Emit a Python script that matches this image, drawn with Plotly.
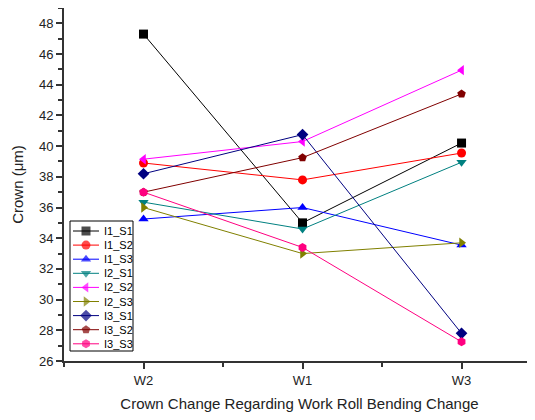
import plotly.graph_objects as go

categories = ["W2", "W1", "W3"]
series_names = ["I1_S1", "I1_S2", "I1_S3", "I2_S1", "I2_S2", "I2_S3", "I3_S1", "I3_S2", "I3_S3"]
I1_S1 = [47.3, 35.0, 40.2]
I1_S2 = [38.9, 37.8, 39.55]
I1_S3 = [35.25, 36.0, 33.55]
I2_S1 = [36.35, 34.6, 38.95]
I2_S2 = [39.15, 40.3, 44.95]
I2_S3 = [36.0, 33.0, 33.7]
I3_S1 = [38.2, 40.75, 27.8]
I3_S2 = [37.0, 39.25, 43.4]
I3_S3 = [37.0, 33.4, 27.25]
values = [I1_S1, I1_S2, I1_S3, I2_S1, I2_S2, I2_S3, I3_S1, I3_S2, I3_S3]
colors = ["#000000", "#FF0000", "#0000FF", "#008080", "#FF00FF", "#808000", "#000080", "#800000", "#FF0080"]
symbols = ["square", "circle", "triangle-up", "triangle-down", "triangle-left", "triangle-right", "diamond", "pentagon", "hexagon"]
y_ticks = [26, 28, 30, 32, 34, 36, 38, 40, 42, 44, 46, 48]

fig = go.Figure()
for name, vals, c, s in zip(series_names, values, colors, symbols):
    fig.add_trace(go.Scatter(
        x=[0, 1, 2], y=vals, name=name, mode="lines+markers",
        line=dict(color=c, width=1),
        marker=dict(color=c, symbol=s, size=9, line=dict(width=0)),
        showlegend=False,
    ))

# custom compact legend drawn on an overlay axis measured in pixels of the plot area
leg_x0, leg_x1 = 70, 133
leg_y0, leg_y1 = 221, 351
row0, row_step = 231, 14.1
for i, (name, c, s) in enumerate(zip(series_names, colors, symbols)):
    yy = row0 + i * row_step
    fig.add_trace(go.Scatter(
        x=[73, 86, 99], y=[yy, yy, yy], mode="lines+markers",
        line=dict(color=c, width=1),
        marker=dict(color=c, symbol=s, size=[0, 9, 0], line=dict(width=0)),
        xaxis="x2", yaxis="y2", showlegend=False, hoverinfo="skip",
    ))
    fig.add_annotation(
        x=102, y=yy, xref="x2", yref="y2", text=name, showarrow=False,
        xanchor="left", yanchor="middle",
        font=dict(size=11, color="#000000", family="Liberation Sans, Arial, sans-serif"),
    )
fig.add_shape(type="rect", xref="x2", yref="y2", x0=leg_x0, x1=leg_x1, y0=leg_y0, y1=leg_y1,
              line=dict(color="#000000", width=1), fillcolor="white", layer="below")

fig.update_layout(
    width=527, height=412,
    margin=dict(l=56, r=0, t=0, b=59),
    paper_bgcolor="white", plot_bgcolor="white",
    font=dict(family="Liberation Sans, Arial, sans-serif", color="#222222"),
    showlegend=False,
    xaxis=dict(
        range=[-0.5, 2.462],
        tickvals=[0, 1, 2], ticktext=categories,
        ticks="outside", ticklen=6, tickwidth=1.5, tickcolor="#333333",
        minor=dict(tickvals=[-0.5, 0.5, 1.5, 2.5], ticks="outside", ticklen=4, tickwidth=1.5, tickcolor="#333333"),
        showline=True, linecolor="#333333", linewidth=2, mirror=True,
        showgrid=False, zeroline=False, automargin=False,
        tickfont=dict(size=13),
        title=dict(text="Crown Change Regarding Work Roll Bending Change", font=dict(size=15), standoff=12),
    ),
    yaxis=dict(
        range=[26, 49.0],
        tickvals=y_ticks,
        ticks="outside", ticklen=6, tickwidth=1.5, tickcolor="#333333",
        minor=dict(dtick=1, ticks="outside", ticklen=4, tickwidth=1.5, tickcolor="#333333"),
        showline=True, linecolor="#333333", linewidth=2,
        showgrid=False, zeroline=False, automargin=False,
        tickfont=dict(size=13),
        title=dict(text="Crown (μm)", font=dict(size=15), standoff=12),
    ),
    xaxis2=dict(range=[64, 535], overlaying="x", visible=False, fixedrange=True),
    yaxis2=dict(range=[361, 8], overlaying="y", visible=False, fixedrange=True),
)

fig.write_html("out.html")
